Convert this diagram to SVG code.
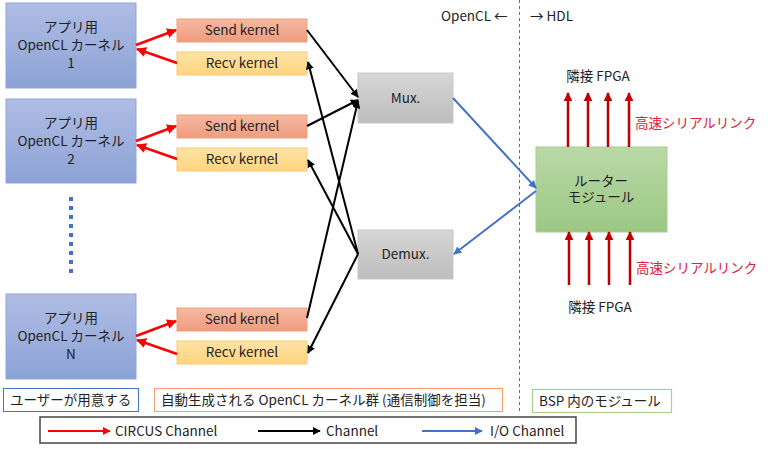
<svg xmlns="http://www.w3.org/2000/svg" width="768" height="449" viewBox="0 0 768 449">
<defs>
<linearGradient id="gApp" x1="0" y1="0" x2="0" y2="1"><stop offset="0" stop-color="#AFBDE3"/><stop offset="1" stop-color="#8CA2D6"/></linearGradient>
<linearGradient id="gSend" x1="0" y1="0" x2="0" y2="1"><stop offset="0" stop-color="#F5B9A2"/><stop offset="1" stop-color="#F09B7E"/></linearGradient>
<linearGradient id="gRecv" x1="0" y1="0" x2="0" y2="1"><stop offset="0" stop-color="#FFE3A6"/><stop offset="1" stop-color="#FFD47E"/></linearGradient>
<linearGradient id="gGray" x1="0" y1="0" x2="0" y2="1"><stop offset="0" stop-color="#D6D6D6"/><stop offset="1" stop-color="#BDBDBD"/></linearGradient>
<linearGradient id="gGreen" x1="0" y1="0" x2="0" y2="1"><stop offset="0" stop-color="#B9D8A6"/><stop offset="1" stop-color="#9CC884"/></linearGradient>
<marker id="aRed" viewBox="0 0 10 10" refX="9" refY="5" markerWidth="4" markerHeight="4" orient="auto" markerUnits="strokeWidth"><path d="M0,0 L10,5 L0,10 z" fill="#FF0000"/></marker>
<marker id="aBlk" viewBox="0 0 10 10" refX="9" refY="5" markerWidth="4" markerHeight="4" orient="auto" markerUnits="strokeWidth"><path d="M0,0 L10,5 L0,10 z" fill="#000000"/></marker>
<marker id="aBlue" viewBox="0 0 10 10" refX="9" refY="5" markerWidth="4" markerHeight="4" orient="auto" markerUnits="strokeWidth"><path d="M0,0 L10,5 L0,10 z" fill="#4472C4"/></marker>
<marker id="aDRed" viewBox="0 0 10 10" refX="9" refY="5" markerWidth="3.5" markerHeight="3.5" orient="auto" markerUnits="strokeWidth"><path d="M0,0 L10,5 L0,10 z" fill="#C00000"/></marker>
</defs>
<style>
text{font-family:"Noto Sans CJK JP","Noto Sans",sans-serif;font-size:13.5px;fill:#222;}
.c{text-anchor:middle;}
.app{fill:url(#gApp);stroke:#8FA5D8;stroke-width:1;}
.send{fill:url(#gSend);stroke:#F0A080;stroke-width:1;}
.recv{fill:url(#gRecv);stroke:#F8CC70;stroke-width:1;}
.gray{fill:url(#gGray);stroke:#C8C8C8;stroke-width:1;}
.green{fill:url(#gGreen);stroke:#A8CC94;stroke-width:1;}
.red{stroke:#FF0000;stroke-width:2.5;fill:none;marker-end:url(#aRed);}
.blk{stroke:#000;stroke-width:2;fill:none;marker-end:url(#aBlk);}
.blue{stroke:#4472C4;stroke-width:2;fill:none;marker-end:url(#aBlue);}
.dred{stroke:#C00000;stroke-width:2.5;fill:none;marker-end:url(#aDRed);}
.rt{fill:#E0203A;}
</style>
<rect width="768" height="449" fill="#FFFFFF"/>
<line x1="519.5" y1="0" x2="519.5" y2="412" stroke="#4472C4" stroke-width="1" stroke-dasharray="3 3"/>
<text x="441" y="21">OpenCL ←</text>
<text x="530" y="21">→ HDL</text>
<g id="app1"><rect class="app" x="6" y="3" width="130" height="85"/><text class="c" x="71" y="32">アプリ用</text><text class="c" x="71" y="50">OpenCL カーネル</text><text class="c" x="71" y="68">1</text></g>
<g id="app2"><rect class="app" x="6" y="99" width="130" height="84"/><text class="c" x="71" y="128">アプリ用</text><text class="c" x="71" y="146">OpenCL カーネル</text><text class="c" x="71" y="164">2</text></g>
<g id="appN"><rect class="app" x="6" y="294" width="130" height="85"/><text class="c" x="71" y="323">アプリ用</text><text class="c" x="71" y="341">OpenCL カーネル</text><text class="c" x="71" y="359">N</text></g>
<g id="dots"><line x1="71" y1="197" x2="71" y2="275" stroke="#4472C4" stroke-width="4" stroke-dasharray="4 5"/></g>
<g id="send1"><rect class="send" x="177" y="19" width="130" height="23"/><text class="c" x="242" y="35">Send kernel</text></g>
<g id="recv1"><rect class="recv" x="177" y="52" width="130" height="23"/><text class="c" x="242" y="68">Recv kernel</text></g>
<g id="send2"><rect class="send" x="177" y="115" width="130" height="23"/><text class="c" x="242" y="131">Send kernel</text></g>
<g id="recv2"><rect class="recv" x="177" y="148" width="130" height="23"/><text class="c" x="242" y="164">Recv kernel</text></g>
<g id="sendN"><rect class="send" x="177" y="308" width="130" height="23"/><text class="c" x="242" y="324">Send kernel</text></g>
<g id="recvN"><rect class="recv" x="177" y="341" width="130" height="23"/><text class="c" x="242" y="357">Recv kernel</text></g>
<g id="mux"><rect class="gray" x="358" y="73" width="95" height="50"/><text class="c" x="405.5" y="103">Mux.</text></g>
<g id="demux"><rect class="gray" x="358" y="230" width="95" height="49"/><text class="c" x="405.5" y="259">Demux.</text></g>
<g id="router"><rect class="green" x="536" y="147" width="131" height="85"/><text class="c" x="601" y="186">ルーター</text><text class="c" x="601" y="202">モジュール</text></g>
<text class="c" x="598" y="81">隣接 FPGA</text>
<text class="c" x="600" y="312">隣接 FPGA</text>
<text class="rt" x="635" y="128">高速シリアルリンク</text>
<text class="rt" x="636" y="273">高速シリアルリンク</text>
<g id="connectors">
<line class="red" x1="136" y1="45" x2="176" y2="30"/>
<line class="red" x1="177" y1="63" x2="137" y2="49"/>
<line class="red" x1="136" y1="141" x2="176" y2="126"/>
<line class="red" x1="177" y1="159" x2="137" y2="145"/>
<line class="red" x1="136" y1="336" x2="176" y2="321"/>
<line class="red" x1="177" y1="354" x2="137" y2="340"/>
<line class="blk" x1="307" y1="30" x2="358" y2="97"/>
<line class="blk" x1="307" y1="126" x2="358" y2="100"/>
<line class="blk" x1="307" y1="318" x2="358" y2="101"/>
<line class="blk" x1="358" y1="254" x2="308" y2="62"/>
<line class="blk" x1="358" y1="254" x2="308" y2="160"/>
<line class="blk" x1="358" y1="254" x2="308" y2="353"/>
<line class="blue" x1="453" y1="98" x2="536" y2="188"/>
<line class="blue" x1="536" y1="191" x2="454" y2="254"/>
<line class="dred" x1="568" y1="147" x2="568" y2="93"/>
<line class="dred" x1="588" y1="147" x2="588" y2="93"/>
<line class="dred" x1="608" y1="147" x2="608" y2="93"/>
<line class="dred" x1="629" y1="147" x2="629" y2="93"/>
<line class="dred" x1="569" y1="285" x2="569" y2="232"/>
<line class="dred" x1="589" y1="285" x2="589" y2="232"/>
<line class="dred" x1="609" y1="285" x2="609" y2="232"/>
<line class="dred" x1="630" y1="285" x2="630" y2="232"/>
</g>
<g id="legend-user"><rect x="3.5" y="388.5" width="135" height="23" fill="#fff" stroke="#4472C4" stroke-width="1"/><text x="10" y="405">ユーザーが用意する</text></g>
<g id="legend-auto"><rect x="154.5" y="388.5" width="348" height="23" fill="#fff" stroke="#F4A070" stroke-width="1"/><text x="161" y="405">自動生成される OpenCL カーネル群 (通信制御を担当)</text></g>
<g id="legend-bsp"><rect x="532.5" y="389.5" width="139" height="23" fill="#fff" stroke="#A9D18E" stroke-width="1.2"/><text x="539" y="406">BSP 内のモジュール</text></g>
<g id="legend"><rect x="40" y="417" width="536" height="26" fill="#fff" stroke="#444" stroke-width="1.5"/>
<line class="red" x1="48" y1="431" x2="110" y2="431" style="stroke-width:2"/><text x="115" y="436">CIRCUS Channel</text>
<line class="blk" x1="258" y1="431" x2="320" y2="431"/><text x="326" y="436">Channel</text>
<line class="blue" x1="422" y1="431" x2="482" y2="431"/><text x="490" y="436">I/O Channel</text>
</g>
</svg>
